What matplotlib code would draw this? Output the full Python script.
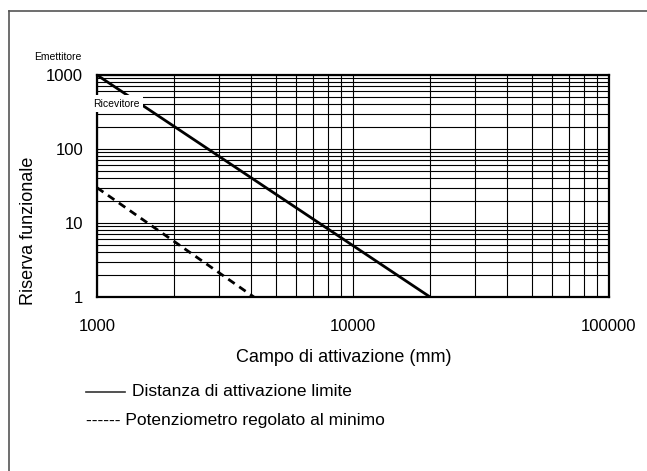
import matplotlib
matplotlib.use("Agg")
import matplotlib.pyplot as plt
from matplotlib.lines import Line2D
from matplotlib.ticker import LogLocator, NullFormatter, FixedLocator, FixedFormatter

plt.rcParams['font.family'] = ['Liberation Sans', 'DejaVu Sans']

# Data
solid_x = [1000, 20000]
solid_y = [1000, 1]
dashed_x = [1000, 4100]
dashed_y = [30, 1]
x_ticks = [1000, 10000, 100000]
x_labels = ["1000", "10000", "100000"]
y_ticks = [1, 10, 100, 1000]
y_labels = ["1", "10", "100", "1000"]

W, H = 647, 471
fig = plt.figure(figsize=(W / 100, H / 100), dpi=100)

# outer frame (top & left visible)
fig.add_artist(Line2D([9 / W, 1.0], [1 - 11 / H, 1 - 11 / H], color="#555555", lw=1.2))
fig.add_artist(Line2D([9 / W, 9 / W], [0, 1 - 11 / H], color="#555555", lw=1.2))

ax = fig.add_axes([97 / W, 1 - 297 / H, (609 - 97) / W, (297 - 75) / H])
ax.set_xscale('log')
ax.set_yscale('log')
ax.set_xlim(1000, 100000)
ax.set_ylim(1, 1000)

ax.xaxis.set_major_locator(FixedLocator(x_ticks))
ax.xaxis.set_major_formatter(FixedFormatter(x_labels))
ax.yaxis.set_major_locator(FixedLocator(y_ticks))
ax.yaxis.set_major_formatter(FixedFormatter(y_labels))
ax.xaxis.set_minor_locator(LogLocator(base=10, subs=range(2, 10)))
ax.yaxis.set_minor_locator(LogLocator(base=10, subs=range(2, 10)))
ax.xaxis.set_minor_formatter(NullFormatter())
ax.yaxis.set_minor_formatter(NullFormatter())

ax.grid(True, which='both', color='black', lw=0.8)
ax.tick_params(which='both', length=0)
ax.tick_params(axis='x', pad=15.5, labelsize=12)
ax.tick_params(axis='y', pad=10, labelsize=12)
for s in ax.spines.values():
    s.set_linewidth(1.6)
    s.set_color('black')

ax.plot(solid_x, solid_y, color='black', lw=2.0, solid_capstyle='butt', zorder=3)
ax.plot(dashed_x, dashed_y, color='black', lw=2.0, dashes=(2.8, 2.0), zorder=3)

# axis labels
fig.text(344 / W, 1 - 357 / H, "Campo di attivazione (mm)", ha='center', va='center', fontsize=13)
fig.text(28.5 / W, 1 - 231 / H, "Riserva funzionale", ha='center', va='center', fontsize=13, rotation=90)

# annotations
fig.text(58 / W, 1 - 57 / H, "Emettitore", ha='center', va='center', fontsize=7.5)
fig.text(116 / W, 1 - 103.5 / H, "Ricevitore", ha='center', va='center', fontsize=7.5, zorder=10,
         bbox=dict(facecolor='white', edgecolor='none', pad=2.5))

# legend
fig.add_artist(Line2D([86 / W, 125 / W], [1 - 392 / H, 1 - 392 / H], color='#333333', lw=1.2))
fig.text(132 / W, 1 - 392 / H, "Distanza di attivazione limite", ha='left', va='center', fontsize=12.5)
fig.text(86 / W, 1 - 420 / H, "------ Potenziometro regolato al minimo", ha='left', va='center', fontsize=12.5)

fig.savefig("out.png", dpi=100)
